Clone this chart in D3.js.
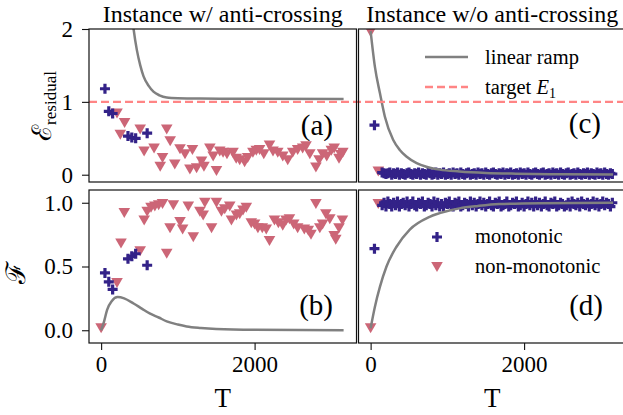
<!DOCTYPE html>
<html>
<head>
<meta charset="utf-8">
<script src="https://cdn.jsdelivr.net/npm/d3@7"></script>
<style>
body { margin: 0; background: #fff; }
svg { display: block; }
</style>
</head>
<body>
<div id="chart"></div>
<script>
/**************************
 * Data
 **************************/
var xTicks = [0, 2000];
var eTicks = [0, 1, 2];
var fTicks = [0, 0.5, 1.0];
var titles = ['Instance w/ anti-crossing', 'Instance w/o anti-crossing'];
var target = 1;

// left column: instance with anti-crossing
var acMonoT = [50, 100, 150, 350, 400, 450, 600];
var acMonoE = [1.18, 0.87, 0.84, 0.53, 0.51, 0.50, 0.57];
var acMonoF = [0.45, 0.38, 0.32, 0.56, 0.58, 0.60, 0.51];

var acTriET = [207, 250, 306, 509, 560, 690, 770, 800, 855, 900, 960, 1028, 1093, 1157, 1190, 1244,
  1309, 1340, 1417, 1460, 1503, 1546, 1589, 1640, 1719, 1760, 1806, 1870, 1910, 1978, 2022, 2065,
  2120, 2194, 2240, 2302, 2367, 2432, 2497, 2561, 2626, 2670, 2720, 2799, 2840, 2886, 2940, 3000,
  3037, 3100, 3124, 3150];
var acTriE = [0.84, 0.55, 0.71, 0.62, 0.32, 0.36, 0.11, 0.23, 0.62, 0.46, 0.14, 0.35, 0.28, 0.07, 0.34, 0.09,
  0.18, 0.11, 0.36, 0.25, 0.05, 0.32, 0.30, 0.28, 0.30, 0.22, 0.20, 0.17, 0.23, 0.30, 0.33, 0.34,
  0.28, 0.40, 0.32, 0.30, 0.25, 0.20, 0.30, 0.34, 0.36, 0.39, 0.28, 0.10, 0.20, 0.28, 0.25, 0.33,
  0.36, 0.22, 0.27, 0.30];

var acTriFT = [0, 207, 259, 302, 509, 561, 600, 650, 700, 750, 800, 855, 898, 941, 1028, 1062,
  1136, 1201, 1287, 1330, 1352, 1439, 1503, 1568, 1611, 1676, 1698, 1763, 1806, 1849, 1892, 1957,
  2000, 2043, 2100, 2152, 2194, 2259, 2310, 2367, 2410, 2454, 2510, 2561, 2648, 2700, 2735, 2799,
  2850, 2886, 2929, 2980, 3037, 3058, 3100, 3145];
var acTriF = [0.016, 0.37, 0.68, 0.92, 0.62, 0.86, 0.93, 0.96, 0.97, 0.98, 0.99, 0.60, 0.80, 0.98, 0.85, 0.79,
  0.97, 0.73, 0.93, 0.90, 1.0, 0.80, 1.0, 0.93, 0.95, 0.97, 0.86, 0.90, 0.91, 0.94, 0.96, 0.84,
  0.83, 0.80, 0.80, 0.79, 0.70, 0.86, 0.84, 0.82, 0.86, 0.87, 0.83, 0.80, 0.79, 0.78, 0.75, 0.99,
  0.80, 0.83, 0.91, 0.87, 0.74, 0.71, 0.80, 0.86];

// linear ramp reference curves
var acRampET = [300, 380, 423, 466, 510, 553, 620, 682, 760, 855, 1000, 1287, 2000, 3160];
var acRampE = [3.2, 2.4, 2.0, 1.71, 1.5, 1.35, 1.22, 1.14, 1.09, 1.06, 1.05, 1.045, 1.042, 1.04];
var acRampFT = [0, 39, 78, 140, 215, 300, 423, 530, 639, 750, 855, 1000, 1115, 1300, 1500, 2000, 3160];
var acRampF = [0, 0.07, 0.16, 0.23, 0.26, 0.25, 0.21, 0.17, 0.13, 0.10, 0.07, 0.045, 0.03, 0.018, 0.01, 0.003, 0.0];

// right column: instance without anti-crossing
var nacTriT = [0, 100];
var nacTriE = [1.96, 0.045];
var nacTriF = [0.016, 0.99];

var nacMonoT = [50,
  150, 175, 200, 225, 250, 275, 300, 325, 350, 375, 400, 425, 450, 475, 500, 525,
  550, 575, 600, 625, 650, 675, 700, 725, 750, 775, 800, 825, 850, 875, 900, 925,
  950, 975, 1000, 1025, 1050, 1075, 1100, 1125, 1150, 1175, 1200, 1225, 1250, 1275, 1300, 1325,
  1350, 1375, 1400, 1425, 1450, 1475, 1500, 1525, 1550, 1575, 1600, 1625, 1650, 1675, 1700, 1725,
  1750, 1775, 1800, 1825, 1850, 1875, 1900, 1925, 1950, 1975, 2000, 2025, 2050, 2075, 2100, 2125,
  2150, 2175, 2200, 2225, 2250, 2275, 2300, 2325, 2350, 2375, 2400, 2425, 2450, 2475, 2500, 2525,
  2550, 2575, 2600, 2625, 2650, 2675, 2700, 2725, 2750, 2775, 2800, 2825, 2850, 2875, 2900, 2925,
  2950, 2975, 3000, 3025, 3050, 3075, 3100, 3125, 3150];
var nacMonoE = [0.68,
  0.03, 0.02, 0.01, 0.02, 0.03, 0.00, 0.02, 0.01, 0.03, 0.00, 0.02, 0.01, 0.00, 0.02, 0.03, 0.01,
  0.00, 0.02, 0.01, 0.03, 0.00, 0.02, 0.01, 0.00, 0.03, 0.02, 0.00, 0.01, 0.03, 0.00, 0.02, 0.01,
  0.03, 0.00, 0.01, 0.02, 0.00, 0.03, 0.01, 0.02, 0.00, 0.03, 0.01, 0.00, 0.02, 0.03, 0.00, 0.01,
  0.02, 0.00, 0.03, 0.01, 0.02, 0.00, 0.03, 0.01, 0.00, 0.02, 0.03, 0.01, 0.00, 0.02, 0.01, 0.03,
  0.00, 0.02, 0.01, 0.03, 0.00, 0.01, 0.02, 0.00, 0.03, 0.01, 0.02, 0.00, 0.03, 0.01, 0.00, 0.02,
  0.03, 0.01, 0.00, 0.02, 0.03, 0.00, 0.01, 0.02, 0.00, 0.03, 0.01, 0.02, 0.00, 0.03, 0.01, 0.00,
  0.02, 0.03, 0.00, 0.01, 0.02, 0.00, 0.03, 0.01, 0.00, 0.02, 0.01, 0.03, 0.00, 0.02, 0.01, 0.00,
  0.03, 0.01, 0.02, 0.00, 0.03, 0.01, 0.00, 0.02, 0.01];
var nacMonoF = [0.64,
  0.98, 1.00, 0.97, 1.01, 0.99, 0.97, 1.00, 0.98, 1.01, 0.97, 0.99, 1.00, 0.98, 1.01, 0.97, 0.99,
  1.01, 0.98, 0.97, 1.00, 0.99, 1.01, 0.97, 0.98, 1.00, 0.99, 0.97, 1.01, 0.98, 1.00, 0.97, 0.99,
  0.97, 1.00, 0.99, 1.01, 0.98, 0.97, 1.00, 0.99, 1.01, 0.97, 0.98, 1.00, 0.99, 0.97, 1.01, 0.98,
  1.00, 0.97, 0.99, 1.01, 0.98, 1.00, 0.97, 0.99, 1.01, 0.98, 0.97, 1.00, 0.99, 1.01, 0.97, 0.98,
  0.99, 1.01, 0.97, 0.98, 1.00, 0.99, 1.01, 0.97, 0.98, 1.00, 0.97, 0.99, 1.01, 0.98, 1.00, 0.97,
  1.01, 0.98, 1.00, 0.97, 0.99, 1.01, 0.98, 0.97, 1.00, 0.99, 1.01, 0.97, 0.98, 1.00, 0.99, 0.97,
  0.98, 1.00, 0.97, 1.01, 0.99, 0.98, 1.00, 0.97, 1.01, 0.99, 0.98, 1.00, 0.97, 0.99, 1.01, 0.98,
  1.00, 0.97, 0.99, 1.01, 0.98, 1.00, 0.99, 0.97, 1.00];

var nacRampET = [0, 56, 121, 185, 293, 380, 466, 600, 726, 900, 1158, 1500, 1892, 2500, 3160];
var nacRampE = [1.97, 1.48, 1.12, 0.8, 0.48, 0.34, 0.25, 0.16, 0.11, 0.07, 0.045, 0.025, 0.014, 0.006, 0.003];
var nacRampFT = [0, 56, 121, 207, 337, 510, 769, 1000, 1158, 1400, 1676, 2200, 3160];
var nacRampF = [0.016, 0.185, 0.34, 0.5, 0.655, 0.79, 0.89, 0.935, 0.956, 0.975, 0.99, 0.997, 1.0];

/**************************
 * Layout & scales
 **************************/
var W = 623, H = 415;
var FONT = '"Liberation Serif", "Times New Roman", Tinos, "DejaVu Serif", serif';
var BLUE = '#332288', PINK = '#cc6677', GRAY = '#808080', RED = '#ff8585';
var plusPath = 'M-5,-1.6H5V1.6H-5Z M-1.6,-5H1.6V5H-1.6Z';
var triPath = 'M-5.8,-5L5.8,-5L0,5Z';

var svg = d3.select('#chart').append('svg').attr('width', W).attr('height', H)
	.attr('font-family', FONT);

var xL = d3.scaleLinear().domain([-158, 3328]).range([89, 356.5]);
var xR = d3.scaleLinear().domain([-158, 3328]).range([358.5, 626]);
var yE = d3.scaleLinear().domain([-0.1, 2]).range([182, 29]);
var yF = d3.scaleLinear().domain([-0.1, 1.1]).range([343, 190]);

var clipId = 0;
function panel(x, y) {
	var id = 'clip' + (clipId++);
	svg.append('clipPath').attr('id', id).append('rect')
		.attr('x', x.range()[0]).attr('y', y.range()[1])
		.attr('width', x.range()[1] - x.range()[0])
		.attr('height', y.range()[0] - y.range()[1]);
	return svg.append('g').attr('clip-path', 'url(#' + id + ')');
}

function frame(x, y) {
	svg.append('rect')
		.attr('x', x.range()[0]).attr('y', y.range()[1])
		.attr('width', x.range()[1] - x.range()[0])
		.attr('height', y.range()[0] - y.range()[1])
		.attr('fill', 'none').attr('stroke', '#111').attr('stroke-width', 1.2);
}

function markers(g, T, V, x, y, path, color) {
	g.append('g').selectAll('path').data(d3.zip(T, V)).enter().append('path')
		.attr('d', path).attr('fill', color)
		.attr('transform', function(d) { return 'translate(' + x(d[0]) + ',' + y(d[1]) + ')'; });
}

function ramp(g, T, V, x, y) {
	var line = d3.line()
		.x(function(d) { return x(d[0]); })
		.y(function(d) { return y(d[1]); })
		.curve(d3.curveMonotoneX);
	g.append('path').datum(d3.zip(T, V)).attr('d', line)
		.attr('fill', 'none').attr('stroke', GRAY).attr('stroke-width', 2.5);
}

function label(txt, x, y, size, anchor) {
	return svg.append('text').attr('x', x).attr('y', y)
		.attr('font-family', FONT).attr('fill', '#000')
		.attr('font-size', size).attr('text-anchor', anchor || 'middle').text(txt);
}

/**************************
 * Panels
 **************************/
var gA = panel(xL, yE);
markers(gA, acTriET, acTriE, xL, yE, triPath, PINK);
markers(gA, acMonoT, acMonoE, xL, yE, plusPath, BLUE);
ramp(gA, acRampET, acRampE, xL, yE);

var gB = panel(xL, yF);
markers(gB, acTriFT, acTriF, xL, yF, triPath, PINK);
markers(gB, acMonoT, acMonoF, xL, yF, plusPath, BLUE);
ramp(gB, acRampFT, acRampF, xL, yF);

var gC = panel(xR, yE);
markers(gC, nacTriT, nacTriE, xR, yE, triPath, PINK);
markers(gC, nacMonoT, nacMonoE, xR, yE, plusPath, BLUE);
ramp(gC, nacRampET, nacRampE, xR, yE);

var gD = panel(xR, yF);
markers(gD, nacTriT, nacTriF, xR, yF, triPath, PINK);
markers(gD, nacMonoT, nacMonoF, xR, yF, plusPath, BLUE);
ramp(gD, nacRampFT, nacRampF, xR, yF);

// target line runs across both top panels
svg.append('line')
	.attr('x1', xL.range()[0]).attr('x2', W)
	.attr('y1', yE(target)).attr('y2', yE(target))
	.attr('stroke', RED).attr('stroke-width', 2.4).attr('stroke-dasharray', '8,4');

[[xL, yE], [xL, yF], [xR, yE], [xR, yF]].forEach(function(p) { frame(p[0], p[1]); });

/**************************
 * Axes
 **************************/
function styleAxis(g, size) {
	g.attr('font-family', FONT);
	g.select('.domain').remove();
	g.selectAll('line').attr('stroke', '#111').attr('stroke-width', 1.1);
	g.selectAll('text').attr('font-size', size).attr('fill', '#000');
}

svg.append('g').attr('transform', 'translate(' + xL.range()[0] + ',0)')
	.call(d3.axisLeft(yE).tickValues(eTicks).tickSize(7).tickPadding(9).tickFormat(d3.format('d')))
	.call(styleAxis, 23);
svg.append('g').attr('transform', 'translate(' + xL.range()[0] + ',0)')
	.call(d3.axisLeft(yF).tickValues(fTicks).tickSize(7).tickPadding(9).tickFormat(d3.format('.1f')))
	.call(styleAxis, 23);
svg.append('g').attr('transform', 'translate(0,' + yF.range()[0] + ')')
	.call(d3.axisBottom(xL).tickValues(xTicks).tickSize(7).tickPadding(6).tickFormat(d3.format('d')))
	.call(styleAxis, 23);
svg.append('g').attr('transform', 'translate(0,' + yF.range()[0] + ')')
	.call(d3.axisBottom(xR).tickValues(xTicks).tickSize(7).tickPadding(6).tickFormat(d3.format('d')))
	.call(styleAxis, 23);

/**************************
 * Text
 **************************/
label(titles[0], (xL.range()[0] + xL.range()[1]) / 2, 21.5, 24);
label(titles[1], (xR.range()[0] + 626) / 2, 21.5, 24);
label('T', (xL.range()[0] + xL.range()[1]) / 2, 407, 27);
label('T', (xR.range()[0] + 626) / 2, 407, 27);

var eLab = svg.append('text').attr('transform', 'translate(51,106) rotate(-90)')
	.attr('text-anchor', 'middle').attr('font-family', FONT);
eLab.append('tspan').attr('font-size', 27).text('\u2130');
eLab.append('tspan').attr('font-size', 17).attr('dy', 5).text('residual');

svg.append('text').attr('transform', 'translate(25,273) rotate(-90)').attr('text-anchor', 'middle')
	.attr('font-family', FONT).attr('font-size', 27).text('\u2131');

label('(a)', 333, 134.5, 29, 'end');
label('(b)', 333, 315, 29, 'end');
label('(c)', 601, 133, 29, 'end');
label('(d)', 603, 315, 29, 'end');

/**************************
 * Legends
 **************************/
svg.append('line').attr('x1', 425).attr('x2', 468).attr('y1', 57).attr('y2', 57)
	.attr('stroke', GRAY).attr('stroke-width', 2.5);
label('linear ramp', 485, 64, 20.5, 'start');
svg.append('line').attr('x1', 425).attr('x2', 468).attr('y1', 87).attr('y2', 87)
	.attr('stroke', RED).attr('stroke-width', 2.4).attr('stroke-dasharray', '8,4');
var tl = label('target ', 485, 94, 20.5, 'start');
tl.append('tspan').attr('font-style', 'italic').text('E');
tl.append('tspan').attr('font-size', 14).attr('dy', 4).text('1');

svg.append('path').attr('d', plusPath).attr('fill', BLUE).attr('transform', 'translate(437,237)');
label('monotonic', 475, 243, 20.5, 'start');
svg.append('path').attr('d', triPath).attr('fill', PINK).attr('transform', 'translate(437,267)');
label('non-monotonic', 475, 273, 20.5, 'start');
</script>
</body>
</html>
